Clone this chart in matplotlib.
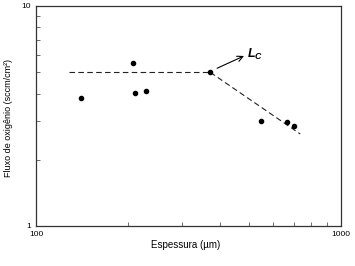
import matplotlib
matplotlib.use("Agg")
import matplotlib.pyplot as plt
from matplotlib.ticker import LogLocator, NullFormatter, FixedLocator, FixedFormatter

plt.rcParams['font.family'] = ['Liberation Sans', 'DejaVu Sans']
plt.rcParams['mathtext.fontset'] = 'custom'
plt.rcParams['mathtext.it'] = 'Liberation Sans:italic:bold'
plt.rcParams['mathtext.rm'] = 'Liberation Sans:bold'

thickness = [140, 208, 211, 229, 373, 547, 663, 703]
flux = [3.82, 5.49, 4.01, 4.11, 4.99, 3.00, 2.97, 2.85]
plateau_x = [128, 373]
plateau_y = [4.99, 4.99]
decay_x = [373, 735]
decay_y = [4.99, 2.62]

fig = plt.figure(figsize=(3.55, 2.66), dpi=100)
ax = fig.add_axes([36/355, 1-226/266, 305/355, 220/266])
ax.set_xscale('log')
ax.set_yscale('log')
ax.set_xlim(100, 1000)
ax.set_ylim(1, 10)

ax.plot(plateau_x, plateau_y, ls=(0, (5, 3)), color='#222222', lw=0.8)
ax.plot(decay_x, decay_y, ls=(0, (5, 3)), color='#222222', lw=0.8)
ax.plot(thickness, flux, 'o', color='black', ms=3)

ax.annotate('', xy=(490, 6.0), xytext=(385, 5.15),
            arrowprops=dict(arrowstyle='->', color='black', lw=0.8))
ax.text(493, 6.0, r'$L_C$', fontsize=9, va='center', ha='left')

ax.xaxis.set_major_locator(FixedLocator([100, 1000]))
ax.xaxis.set_major_formatter(FixedFormatter(['100', '1000']))
ax.yaxis.set_major_locator(FixedLocator([1, 10]))
ax.yaxis.set_major_formatter(FixedFormatter(['1', '10']))
ax.xaxis.set_minor_locator(LogLocator(base=10, subs=range(2, 10)))
ax.yaxis.set_minor_locator(LogLocator(base=10, subs=range(2, 10)))
ax.xaxis.set_minor_formatter(NullFormatter())
ax.yaxis.set_minor_formatter(NullFormatter())
ax.tick_params(which='both', direction='in', labelsize=6, color='#555555')
ax.tick_params(which='major', length=0)
ax.tick_params(which='minor', length=3, width=0.6)
for s in ax.spines.values():
    s.set_color('#333333')
    s.set_linewidth(0.9)

fig.text(186/355, 1-245/266, 'Espessura (µm)', fontsize=7, ha='center', va='center')
fig.text(9/355, 1-118/266, 'Fluxo de oxigênio (sccm/cm²)', fontsize=6.5,
         ha='center', va='center', rotation=90)

fig.savefig('out.png', dpi=100)
